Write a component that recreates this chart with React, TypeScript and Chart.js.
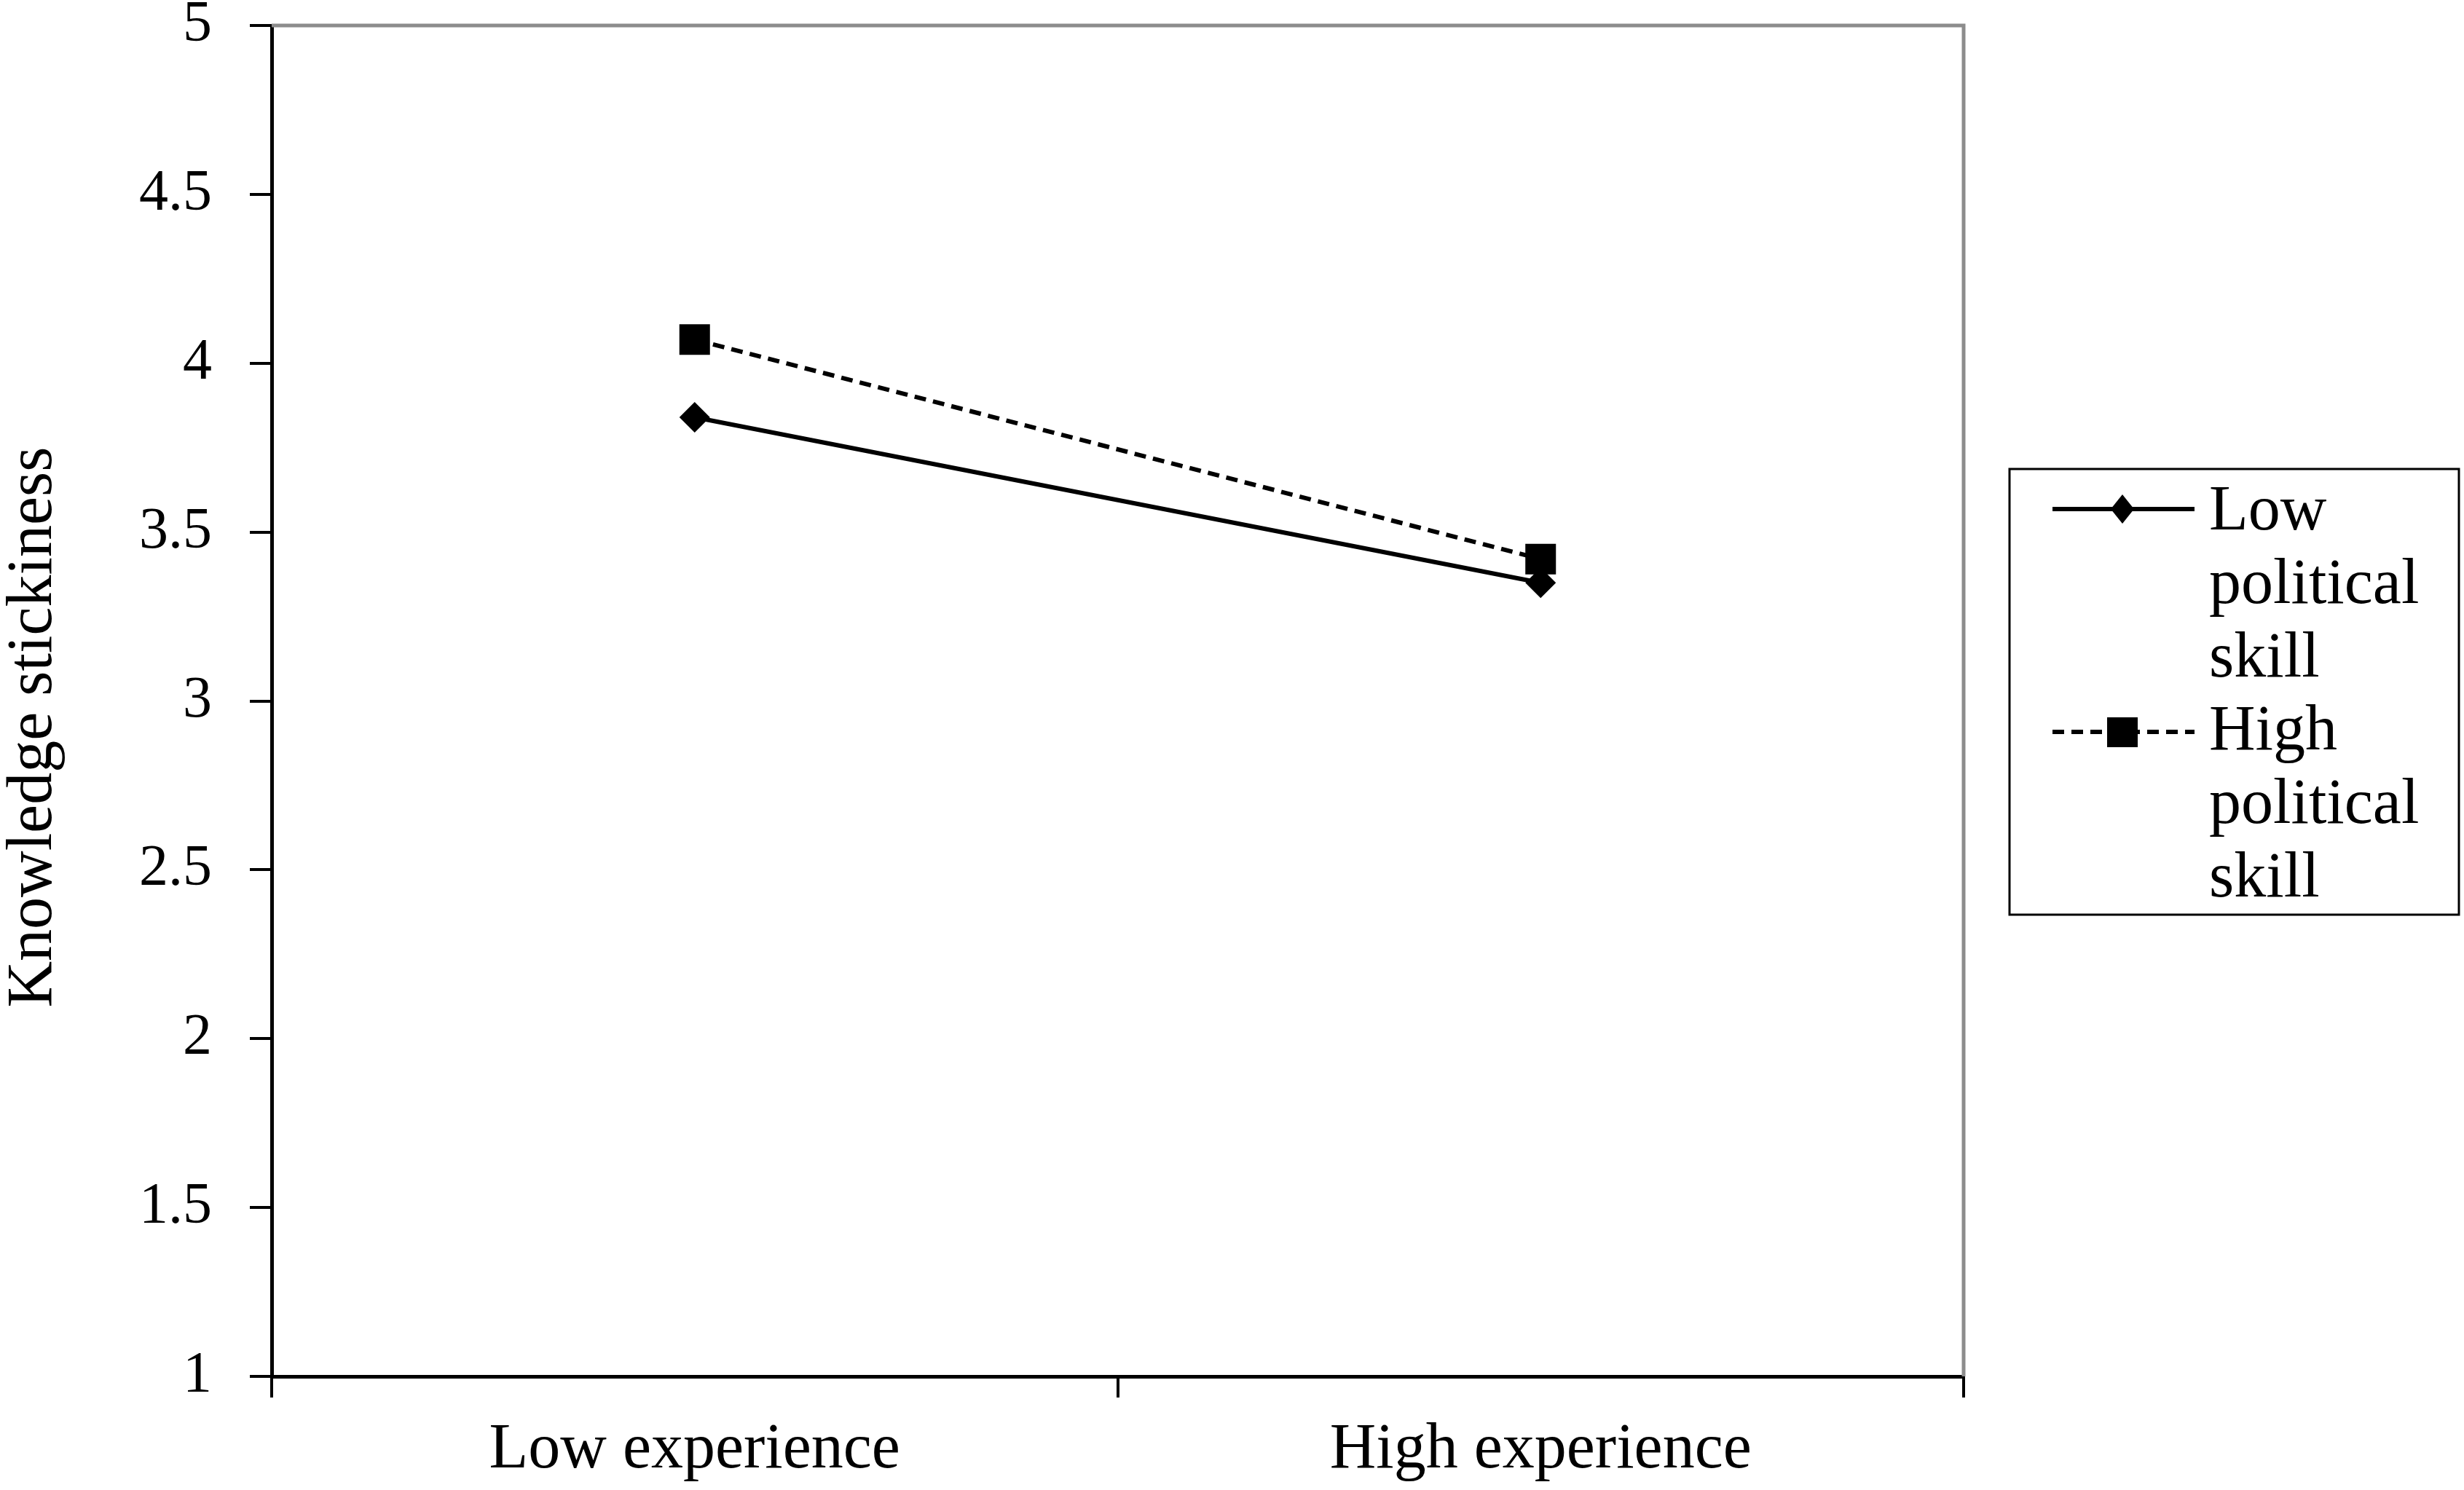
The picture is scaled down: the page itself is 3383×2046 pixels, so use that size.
import { useEffect, useRef } from "react";
import { Chart, registerables } from "chart.js";
Chart.register(...registerables);

const categories = ["Low experience", "High experience"];
const lowSkill = [3.84, 3.35];
const highSkill = [4.07, 3.42];
const seriesNames = ["Low political skill", "High political skill"];
const legendLines = [["Low", "political", "skill"], ["High", "political", "skill"]];
const yTicks = [1, 1.5, 2, 2.5, 3, 3.5, 4, 4.5, 5];
const yTickLabels = ["1", "1.5", "2", "2.5", "3", "3.5", "4", "4.5", "5"];
const yTitle = "Knowledge stickiness";

const FONT = "'Liberation Serif', 'Times New Roman', serif";

// grey top/right frame of the plot area
const framePlugin = {
  id: "frame",
  beforeDatasetsDraw(chart: Chart) {
    const { ctx, chartArea: a } = chart;
    ctx.save();
    ctx.strokeStyle = "#8c8c8c";
    ctx.lineWidth = 5;
    ctx.beginPath();
    ctx.moveTo(a.left, a.top);
    ctx.lineTo(a.right, a.top);
    ctx.lineTo(a.right, a.bottom);
    ctx.stroke();
    ctx.restore();
  },
};

// y title sits a bit below the plot centre in the original
const yTitlePlugin = {
  id: "yTitle",
  afterDraw(chart: Chart) {
    const { ctx, chartArea: a } = chart;
    ctx.save();
    ctx.translate(47, (a.top + a.bottom) / 2 + 36);
    ctx.rotate(-Math.PI / 2);
    ctx.font = `88px ${FONT}`;
    ctx.fillStyle = "#000";
    ctx.textAlign = "center";
    ctx.textBaseline = "middle";
    ctx.fillText(yTitle, 0, 0);
    ctx.restore();
  },
};

// boxed legend with wrapped labels, like the Excel one
const legendPlugin = {
  id: "boxLegend",
  afterDraw(chart: Chart) {
    const { ctx } = chart;
    const box = { left: 2759, top: 644, right: 3376, bottom: 1256 };
    const lineY = [699, 1005];
    const baseY = [727, 1029];
    const pitch = 101;
    ctx.save();
    ctx.strokeStyle = "#000";
    ctx.lineWidth = 3;
    ctx.strokeRect(box.left, box.top, box.right - box.left, box.bottom - box.top);

    chart.data.datasets.forEach((ds: any, i) => {
      const y = lineY[i];
      ctx.strokeStyle = "#000";
      ctx.lineWidth = 6;
      ctx.setLineDash(ds.borderDash || []);
      ctx.beginPath();
      ctx.moveTo(2818, y);
      ctx.lineTo(3013, y);
      ctx.stroke();
      ctx.setLineDash([]);
      ctx.fillStyle = "#000";
      const cx = 2914;
      if (ds.pointStyle === "rectRot") {
        ctx.beginPath();
        ctx.moveTo(cx, y - 20);
        ctx.lineTo(cx + 16, y);
        ctx.lineTo(cx, y + 20);
        ctx.lineTo(cx - 16, y);
        ctx.closePath();
        ctx.fill();
      } else {
        ctx.fillRect(cx - 21, y - 20, 42, 41);
      }
      ctx.font = `88px ${FONT}`;
      ctx.textAlign = "left";
      ctx.textBaseline = "alphabetic";
      legendLines[i].forEach((t, j) => ctx.fillText(t, 3033, baseY[i] + j * pitch));
    });
    ctx.restore();
  },
};

export default function App() {
  const canvasRef = useRef<HTMLCanvasElement>(null);
  const chartInst = useRef<Chart | null>(null);

  useEffect(() => {
    if (!canvasRef.current) return;
    chartInst.current?.destroy();
    chartInst.current = new Chart(canvasRef.current, {
      type: "line",
      data: {
        labels: categories,
        datasets: [
          {
            label: seriesNames[0],
            data: lowSkill,
            borderColor: "#000",
            borderWidth: 6,
            pointStyle: "rectRot",
            pointRadius: 21,
            pointBackgroundColor: "#000",
            pointBorderWidth: 0,
            tension: 0,
          },
          {
            label: seriesNames[1],
            data: highSkill,
            borderColor: "#000",
            borderWidth: 6,
            borderDash: [16, 10],
            pointStyle: "rect",
            pointRadius: 29.7,
            pointBackgroundColor: "#000",
            pointBorderWidth: 0,
            tension: 0,
          },
        ],
      },
      options: {
        animation: false,
        responsive: true,
        maintainAspectRatio: false,
        layout: { padding: { top: 35, right: 687, left: 0, bottom: 0 } },
        plugins: { legend: { display: false }, tooltip: { enabled: false } },
        scales: {
          x: {
            type: "category",
            offset: true,
            grid: { offset: true, drawOnChartArea: false, tickLength: 29, color: "#000", lineWidth: 4 },
            border: { color: "#000", width: 5 },
            ticks: { color: "#000", font: { family: FONT, size: 88 }, padding: 20, maxRotation: 0, autoSkip: false },
            afterFit: (s: any) => { s.height = 156; s.paddingLeft = 0; s.paddingRight = 0; },
          },
          y: {
            min: 1,
            max: 5,
            afterBuildTicks: (s: any) => { s.ticks = yTicks.map((v) => ({ value: v })); },
            ticks: {
              color: "#000",
              font: { family: FONT, size: 80 },
              padding: 52,
              callback: (_v: any, i: number) => yTickLabels[i],
            },
            grid: { drawOnChartArea: false, tickLength: 30, color: "#000", lineWidth: 4 },
            border: { color: "#000", width: 5 },
            afterFit: (s: any) => { s.width = 373; s.paddingTop = 0; s.paddingBottom = 0; },
          },
        },
      },
      plugins: [framePlugin, yTitlePlugin, legendPlugin],
    });
    return () => chartInst.current?.destroy();
  }, []);

  return (
    <div style={{ position: "fixed", left: 0, top: 0, width: "100vw", height: "100vh", background: "#fff" }}>
      <canvas ref={canvasRef} />
    </div>
  );
}
